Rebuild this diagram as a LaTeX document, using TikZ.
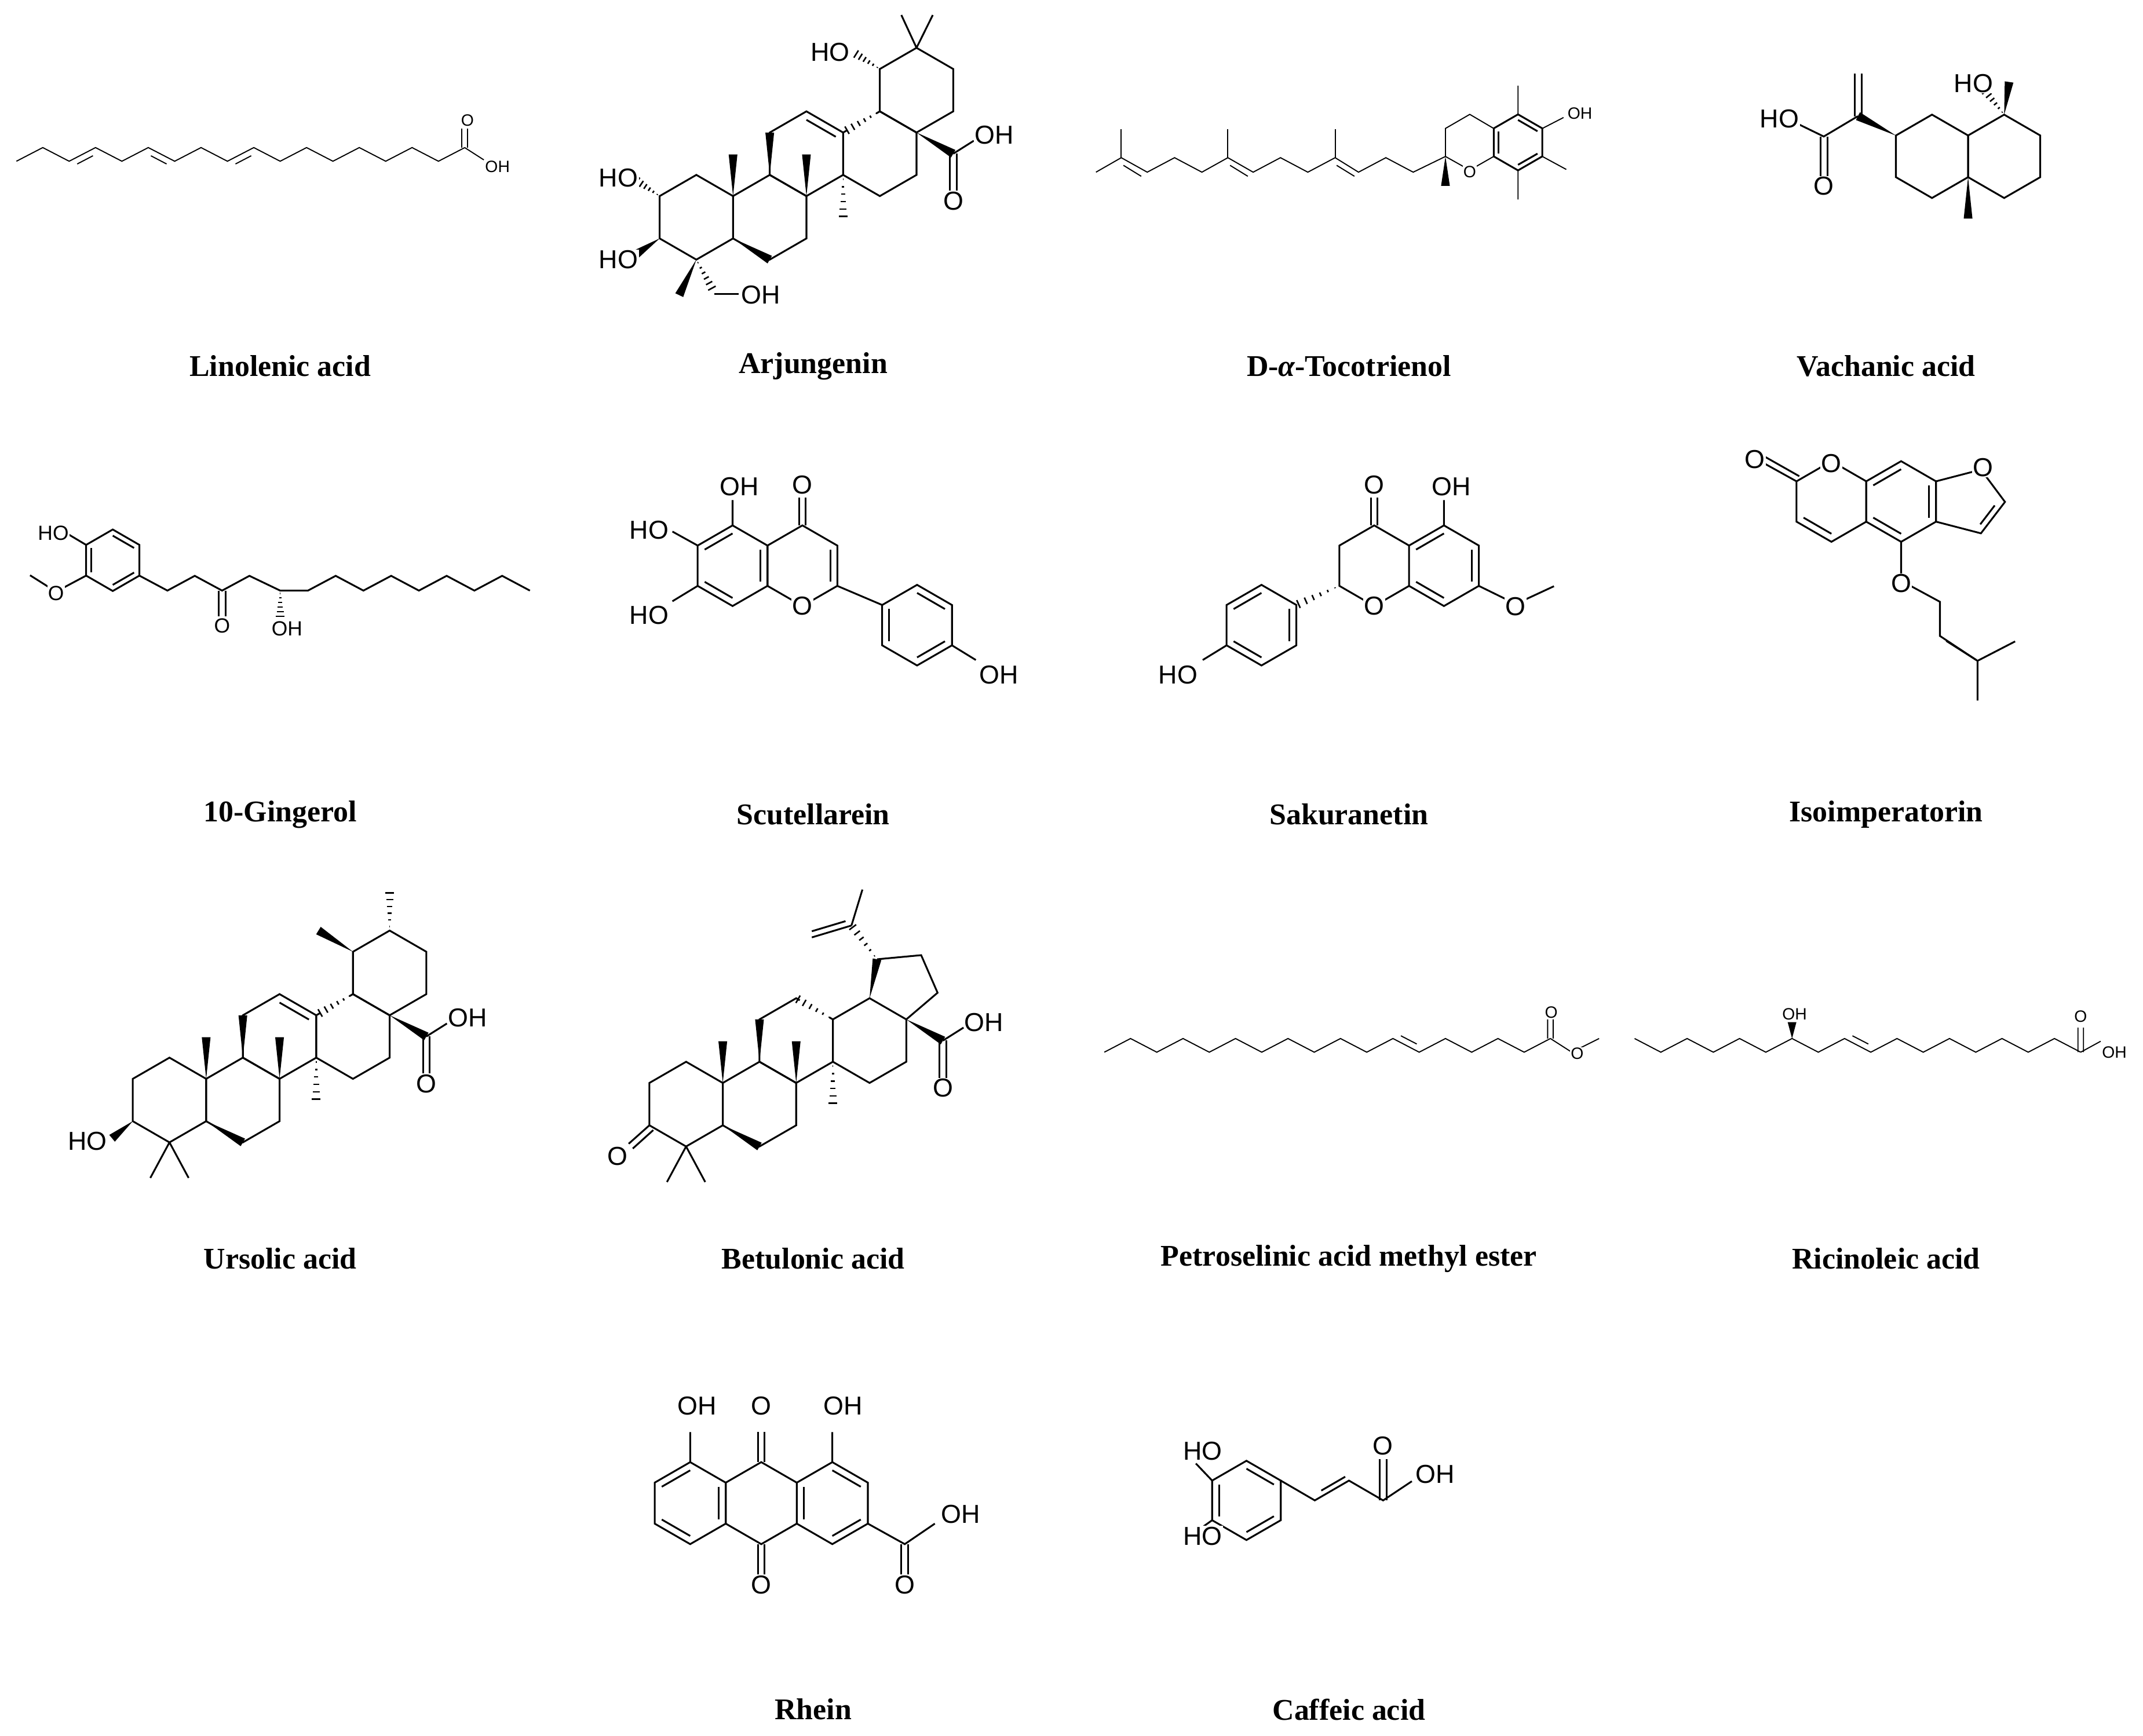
\documentclass[tikz,border=0pt]{standalone}
\usepackage{fontspec}
\setmainfont{Liberation Serif}
\newfontfamily\sansf{Liberation Sans}
\usetikzlibrary{calc}
\newcommand\hexp[3]{\draw[bond,shift={(#1,#2)}] (30:#3)--(90:#3)--(150:#3)--(210:#3)--(270:#3)--(330:#3)--cycle;}
\newcommand\inner[3]{\draw[bond] ($#1!0.2!#3$) -- ($#2!0.2!#3$);}
\newcommand\wdg[2]{\fill #1 -- ($#2!3.2pt!90:#1$) -- ($#2!3.2pt!-90:#1$) -- cycle;}
\newcommand\hsh[2]{\foreach \t in {0.1,0.27,0.44,0.61,0.78,0.95}{\coordinate (hp) at ($#1!\t!#2$); \draw[line width=1.1] ($(hp)!{\t*3.3pt}!90:#2$) -- ($(hp)!{\t*3.3pt}!-90:#2$);}}
\newcommand\wipe[2]{\draw[white,line width=3] ($#1!0.1!#2$) -- ($#2!0.1!#1$);}
\begin{document}
\begin{tikzpicture}[x=1pt,y=-1pt,
 bond/.style={line width=1.3},
 thinb/.style={line width=0.8},
 atom/.style={font=\sansf\fontsize{19}{19}\selectfont,fill=white,inner sep=0.6pt},
 atomm/.style={font=\sansf\fontsize{15}{15}\selectfont,fill=white,inner sep=0.5pt},
 atoms/.style={font=\sansf\fontsize{12}{12}\selectfont,fill=white,inner sep=0.4pt},
 title/.style={font=\bfseries\fontsize{22}{22}\selectfont}]
\useasboundingbox[fill=white] (0,0) rectangle (1568,1270.4);

% ---------- titles
\node[title] (t1) at (205,268) {Linolenic acid};
\node[title] (t2) at (595,268) {Arjungenin};
\node[title] (t3) at (987,268) {D-{\itshape α}-Tocotrienol};
\node[title] (t4) at (1380,268) {Vachanic acid};
\node[title] (t5) at (205,596) {10-Gingerol};
\node[title] (t6) at (595,596) {Scutellarein};
\node[title] (t7) at (987,596) {Sakuranetin};
\node[title] (t8) at (1380,596) {Isoimperatorin};
\node[title] (t9) at (205,921) {Ursolic acid};
\node[title] (t10) at (595,921) {Betulonic acid};
\node[title] (t11) at (987,921) {Petroselinic acid methyl ester};
\node[title] (t12) at (1380,921) {Ricinoleic acid};
\node[title] (t13) at (595,1251) {Rhein};
\node[title] (t14) at (987,1251) {Caffeic acid};

% ---------- Linolenic acid
\draw[thinb] (12,118) \foreach \i in {1,...,17} {-- ({12+19.3*\i},{113+5*cos(180*\i)})};
\foreach \i in {2,8}{\draw[thinb] ({12+19.3*\i+5.9},120) -- ({12+19.3*(\i+1)-1.9},114);}
\draw[thinb] ({12+19.3*5+1.9},114) -- ({12+19.3*6-5.9},120);
\draw[thinb] (338,108) -- (338,94) (342,108) -- (342,94);
\draw[thinb] (340,108) -- (354,117);
\node[atoms] (la1) at (342,88) {O};
\node[atoms] (la2) at (364,122) {OH};

% ---------- Triterpene common macro
\newcommand\terp{%
 \hexp{0}{0}{31}\hexp{53.7}{0}{31}\hexp{80.55}{-46.5}{31}\hexp{134.25}{-46.5}{31}%
 \wdg{(26.85,-15.5)}{(26.85,-46)}\wdg{(80.55,-15.5)}{(80.55,-46)}%
 \wdg{(53.7,-31)}{(53.7,-62)}\wdg{(26.85,15.5)}{(53.7,31)}%
 \hsh{(107.4,-31)}{(107.4,1)}%
 \wdg{(161.1,-62)}{(187.95,-46.5)}%
 \draw[bond] (185.5,-46.5) -- (185.5,-18) (190.5,-46.5) -- (190.5,-18);%
 \draw[bond] (187.95,-46.5) -- (203,-56);%
}
% Ursolic
\begin{scope}[shift={(124,805)}]
\terp
\hexp{161.1}{-93}{31}
\inner{(80.55,-77.5)}{(107.4,-62)}{(80.55,-46.5)}
\wipe{(134.25,-77.5)}{(107.4,-62)}\hsh{(134.25,-77.5)}{(109,-63)}
\wdg{(-26.85,15.5)}{(-42,28)}
\draw[bond] (0,31) -- (-14,57) (0,31) -- (14,57);
\wdg{(134.25,-108.5)}{(109,-124)}
\hsh{(161.1,-124)}{(161.1,-153)}
\node[atom] (u1) at (-60,30) {HO};
\node[atom] (u2) at (188,-12) {O};
\node[atom] (u3) at (218,-60) {OH};
\end{scope}
% Arjungenin
\begin{scope}[shift={(509.5,159)}]
\terp
\hexp{161.1}{-93}{31}
\inner{(80.55,-77.5)}{(107.4,-62)}{(80.55,-46.5)}
\wipe{(134.25,-77.5)}{(107.4,-62)}\hsh{(134.25,-77.5)}{(109,-63)}
\hsh{(-26.85,-15.5)}{(-44,-27)}
\wdg{(-26.85,15.5)}{(-44,27)}
\wdg{(0,31)}{(-12.5,57)}
\hsh{(0,31)}{(12,53)}
\draw[bond] (13,56) -- (31,56);
\hsh{(134.25,-108.5)}{(116,-120)}
\draw[bond] (161.1,-124) -- (150,-148) (161.1,-124) -- (173,-148);
\node[atom] (a1) at (-57,-29) {HO};
\node[atom] (a2) at (-57,31) {HO};
\node[atom] (a3) at (47,57) {OH};
\node[atom] (a4) at (98,-121) {HO};
\node[atom] (a5) at (188,-12) {O};
\node[atom] (a6) at (218,-60) {OH};
\end{scope}
% Betulonic
\begin{scope}[shift={(502,808)}]
\terp
\wipe{(80.55,-77.5)}{(107.4,-62)}\hsh{(107.4,-62)}{(80.55,-77.5)}
\draw[bond] (161.1,-62) -- (184,-81.5) -- (172,-109) -- (139.7,-106);
\wdg{(134.25,-77.5)}{(139.7,-106)}
\hsh{(139.7,-106)}{(121,-130.7)}
\draw[bond] (121,-130.7) -- (129,-157);
\draw[bond] (121,-130.7) -- (92,-122) ($(121,-130.7)!0.15!(92,-122)+(0,-4.5)$) -- ($(92,-122)+(0,-4.5)$);
\draw[bond] (-26.85,15.5) -- (-42,29) (-24,19) -- (-39,32.5);
\draw[bond] (0,31) -- (-14,57) (0,31) -- (14,57);
\node[atom] (b1) at (-50,38) {O};
\node[atom] (b2) at (188,-12) {O};
\node[atom] (b3) at (218,-60) {OH};
\end{scope}

% ---------- Tocotrienol
\hexp{1110.7}{104.2}{20.5}
\draw[thinb] (1092.9,94) -- (1075.4,83.7) -- (1057.6,94) -- (1057.6,114.5) -- (1075.4,124.5) -- (1092.9,114.5);
\inner{(1110.7,83.7)}{(1128.5,94)}{(1110.7,104.2)}
\inner{(1128.5,114.5)}{(1110.7,124.7)}{(1110.7,104.2)}
\inner{(1092.9,114.5)}{(1092.9,94)}{(1110.7,104.2)}
\draw[thinb] (1110.7,83.7) -- (1110.7,62.7) (1128.5,94) -- (1144,86) (1128.5,114.5) -- (1146,124) (1110.7,124.7) -- (1110.7,146);
\wdg{(1057.6,114.5)}{(1057.6,136)}
\draw[thinb] (1057.6,114.5) -- (1034,126) -- (1014,115.4) -- (994,126) -- (976.9,115.4) -- (956.9,126) -- (936.9,115.4) -- (916.9,126) -- (898.4,115.4) -- (879.4,126) -- (859.4,115.4) -- (839.4,126) -- (820.4,115.4) -- (801.9,126);
\draw[thinb] (976.9,115.4) -- (976.9,94.5) (898.4,115.4) -- (898.4,94.5) (820.4,115.4) -- (820.4,94.5);
\draw[thinb] (978,121) -- (991,129) (900,121) -- (913,129) (822,121) -- (835,129);
\node[atoms] (tc1) at (1075.4,126) {O};
\node[atoms] (tc2) at (1156,83) {OH};

% ---------- Vachanic acid
\hexp{1413.6}{114.4}{30.5}\hexp{1466.4}{114.4}{30.5}
\wdg{(1466.4,83.9)}{(1470,60)}
\hsh{(1466.4,83.9)}{(1452,66)}
\wdg{(1440,129.6)}{(1440,160)}
\wdg{(1387.2,99.2)}{(1359.4,85)}
\draw[bond] (1357,85) -- (1357,54) (1362,85) -- (1362,54);
\draw[bond] (1359.4,85) -- (1334.4,99.9) -- (1310,88);
\draw[bond] (1332,99.9) -- (1332,130) (1337,99.9) -- (1337,130);
\node[atom] (v1) at (1444,61) {HO};
\node[atom] (v2) at (1302,87) {HO};
\node[atom] (v3) at (1334.4,136) {O};

% ---------- 10-Gingerol
\hexp{82.5}{410}{22.5}
\inner{(82.5,387.5)}{(102,398.75)}{(82.5,410)}
\inner{(102,421.25)}{(82.5,432.5)}{(82.5,410)}
\inner{(63,421.25)}{(63,398.75)}{(82.5,410)}
\draw[bond] (63,398.75) -- (50,391) (63,421.25) -- (41,433) -- (22,421);
\draw[bond] (102,421.25) -- (122.5,432.2) -- (142.5,421.4) -- (162.5,432.2) -- (182.5,421.4) -- (205,432.2)
 \foreach \i in {1,...,9} {-- ({205+20.3*\i},{426.8-5.4*cos(180*\i)})};
\draw[bond] (160,432.2) -- (160,451) (165,432.2) -- (165,451);
\hsh{(205,432.2)}{(205,452)}
\node[atomm] (g1) at (39,390) {HO};
\node[atomm] (g2) at (41,434) {O};
\node[atomm] (g3) at (162.5,458) {O};
\node[atomm] (g4) at (210,460) {OH};

% ---------- Scutellarein
\hexp{536}{414}{29.5}\hexp{587.1}{414}{29.5}\hexp{671}{457.5}{29.5}
\inner{(536,384.5)}{(510.5,399.25)}{(536,414)}
\inner{(510.5,428.75)}{(536,443.5)}{(536,414)}
\inner{(561.5,399.25)}{(561.5,428.75)}{(536,414)}
\inner{(612.6,399.25)}{(612.6,428.75)}{(587.1,414)}
\inner{(645.5,442.75)}{(645.5,472.25)}{(671,457.5)}
\inner{(671,428)}{(696.5,442.75)}{(671,457.5)}
\inner{(696.5,472.25)}{(671,487)}{(671,457.5)}
\draw[bond] (612.6,428.75) -- (645.5,442.75);
\draw[bond] (584.6,384.5) -- (584.6,364) (589.6,384.5) -- (589.6,364);
\draw[bond] (536,384.5) -- (536,366) (510.5,399.25) -- (492,389) (510.5,428.75) -- (492,440) (696.5,472.25) -- (714,483);
\node[atom] (s1) at (541,356) {OH};
\node[atom] (s2) at (587.1,355) {O};
\node[atom] (s3) at (475,388) {HO};
\node[atom] (s4) at (475,450) {HO};
\node[atom] (s5) at (587.1,443.5) {O};
\node[atom] (s6) at (731,494) {OH};

% ---------- Sakuranetin
\hexp{1056.5}{414}{29.5}
\draw[bond] (1031,399.25) -- (1005.5,384.5) -- (980,399.25) -- (980,428.75) -- (1005.5,443.5) -- (1031,428.75);
\hexp{923}{457.5}{29.5}
\inner{(1056.5,384.5)}{(1031,399.25)}{(1056.5,414)}
\inner{(1082,399.25)}{(1082,428.75)}{(1056.5,414)}
\inner{(1031,428.75)}{(1056.5,443.5)}{(1056.5,414)}
\inner{(923,428)}{(897.5,442.75)}{(923,457.5)}
\inner{(948.5,442.75)}{(948.5,472.25)}{(923,457.5)}
\inner{(897.5,472.25)}{(923,487)}{(923,457.5)}
\hsh{(980,428.75)}{(948.5,442.75)}
\draw[bond] (1003,384.5) -- (1003,364) (1008,384.5) -- (1008,364);
\draw[bond] (1056.5,384.5) -- (1056.5,366) (1082,428.75) -- (1109,442) -- (1137,429) (897.5,472.25) -- (880,483);
\node[atom] (k1) at (1005.5,355) {O};
\node[atom] (k2) at (1062,356) {OH};
\node[atom] (k3) at (1005.5,443.5) {O};
\node[atom] (k4) at (1109,444) {O};
\node[atom] (k5) at (862,494) {HO};

% ---------- Isoimperatorin
\hexp{1340}{367}{29.5}\hexp{1391}{367}{29.5}
\draw[bond] (1416.5,352.25) -- (1449.4,343.7) -- (1467,367.3) -- (1449.4,390.3) -- (1416.5,381.75);
\inner{(1391,337.5)}{(1365.5,352.25)}{(1391,367)}
\inner{(1365.5,381.75)}{(1391,396.5)}{(1391,367)}
\inner{(1416.5,352.25)}{(1416.5,381.75)}{(1391,367)}
\inner{(1314.5,381.75)}{(1340,396.5)}{(1340,367)}
\draw[bond] ($(1467,367.3)!0.2!(1449.4,390.3)+(-4,-2)$) -- ($(1449.4,390.3)!0.2!(1467,367.3)+(-4,-2)$);
\draw[bond] (1314.5,352.25) -- (1287,337) (1316.5,348.5) -- (1290,333.5);
\draw[bond] (1391,396.5) -- (1391,425) -- (1419.4,440.4) -- (1419.4,465.4) -- (1446.9,483.6) -- (1474.4,469.4) (1446.9,483.6) -- (1446.9,512.7);
\draw[bond] (1424,469) -- (1446,483);
\node[atom] (i1) at (1284,336) {O};
\node[atom] (i2) at (1340,339) {O};
\node[atom] (i3) at (1451,342) {O};
\node[atom] (i4) at (1391,427) {O};

% ---------- Petroselinic acid methyl ester
\draw[thinb] (808,770) \foreach \i in {1,...,17} {-- ({808+19.2*\i},{765+5*cos(180*\i)})};
\draw[thinb] ({808+19.2*11+5.8},758) -- ({808+19.2*12-1.8},764);
\draw[thinb] (1132.4,760) -- (1132.4,746) (1136.4,760) -- (1136.4,746) (1134.4,760) -- (1150,770) -- (1170,760);
\node[atoms] (p1) at (1135,741) {O};
\node[atoms] (p2) at (1154,771) {O};

% ---------- Ricinoleic acid
\draw[thinb] (1196,760) \foreach \i in {1,...,17} {-- ({1196+19.2*\i},{765-5*cos(180*\i)})};
\draw[thinb] ({1196+19.2*8+5.8},758) -- ({1196+19.2*9-1.8},764);
\wdg{(1311.2,760)}{(1311.2,748)}
\draw[thinb] (1520.4,770) -- (1520.4,752) (1524.4,770) -- (1524.4,752) (1522.4,770) -- (1537,762);
\node[atoms] (r1) at (1313,742) {OH};
\node[atoms] (r2) at (1522.4,744) {O};
\node[atoms] (r3) at (1547,770) {OH};

% ---------- Rhein
\hexp{505}{1100}{30}\hexp{557}{1100}{30}\hexp{609}{1100}{30}
\inner{(505,1070)}{(479,1085)}{(505,1100)}
\inner{(479,1115)}{(505,1130)}{(505,1100)}
\inner{(531,1085)}{(531,1115)}{(505,1100)}
\inner{(609,1070)}{(635,1085)}{(609,1100)}
\inner{(635,1115)}{(609,1130)}{(609,1100)}
\inner{(583,1115)}{(583,1085)}{(609,1100)}
\draw[bond] (554.5,1070) -- (554.5,1048) (559.5,1070) -- (559.5,1048) (554.5,1130) -- (554.5,1152) (559.5,1130) -- (559.5,1152);
\draw[bond] (505,1070) -- (505,1048) (609,1070) -- (609,1048) (635,1115) -- (662,1130) -- (684,1115);
\draw[bond] (659.5,1130) -- (659.5,1152) (664.5,1130) -- (664.5,1152);
\node[atom] (h1) at (557,1029) {O};
\node[atom] (h2) at (510,1029) {OH};
\node[atom] (h3) at (617,1029) {OH};
\node[atom] (h4) at (557,1160) {O};
\node[atom] (h5) at (662,1160) {O};
\node[atom] (h6) at (703,1108) {OH};

% ---------- Caffeic acid
\hexp{912}{1098}{29}
\inner{(912,1069)}{(937.1,1083.5)}{(912,1098)}
\inner{(937.1,1112.5)}{(912,1127)}{(912,1098)}
\inner{(886.9,1112.5)}{(886.9,1083.5)}{(912,1098)}
\draw[bond] (886.9,1083.5) -- (875,1071) (886.9,1112.5) -- (875,1121);
\draw[bond] (937.1,1083.5) -- (962,1098) -- (987,1083.5) -- (1012,1098) -- (1033,1084);
\draw[bond] ($(962,1098)!0.15!(987,1083.5)+(1,-5)$) -- ($(987,1083.5)!0.15!(962,1098)+(1,-5)$);
\draw[bond] (1009.5,1098) -- (1009.5,1068) (1014.5,1098) -- (1014.5,1068);
\node[atom] (c1) at (880,1062) {HO};
\node[atom] (c2) at (880,1124) {HO};
\node[atom] (c3) at (1012,1058) {O};
\node[atom] (c4) at (1050,1079) {OH};
\end{tikzpicture}
\end{document}
